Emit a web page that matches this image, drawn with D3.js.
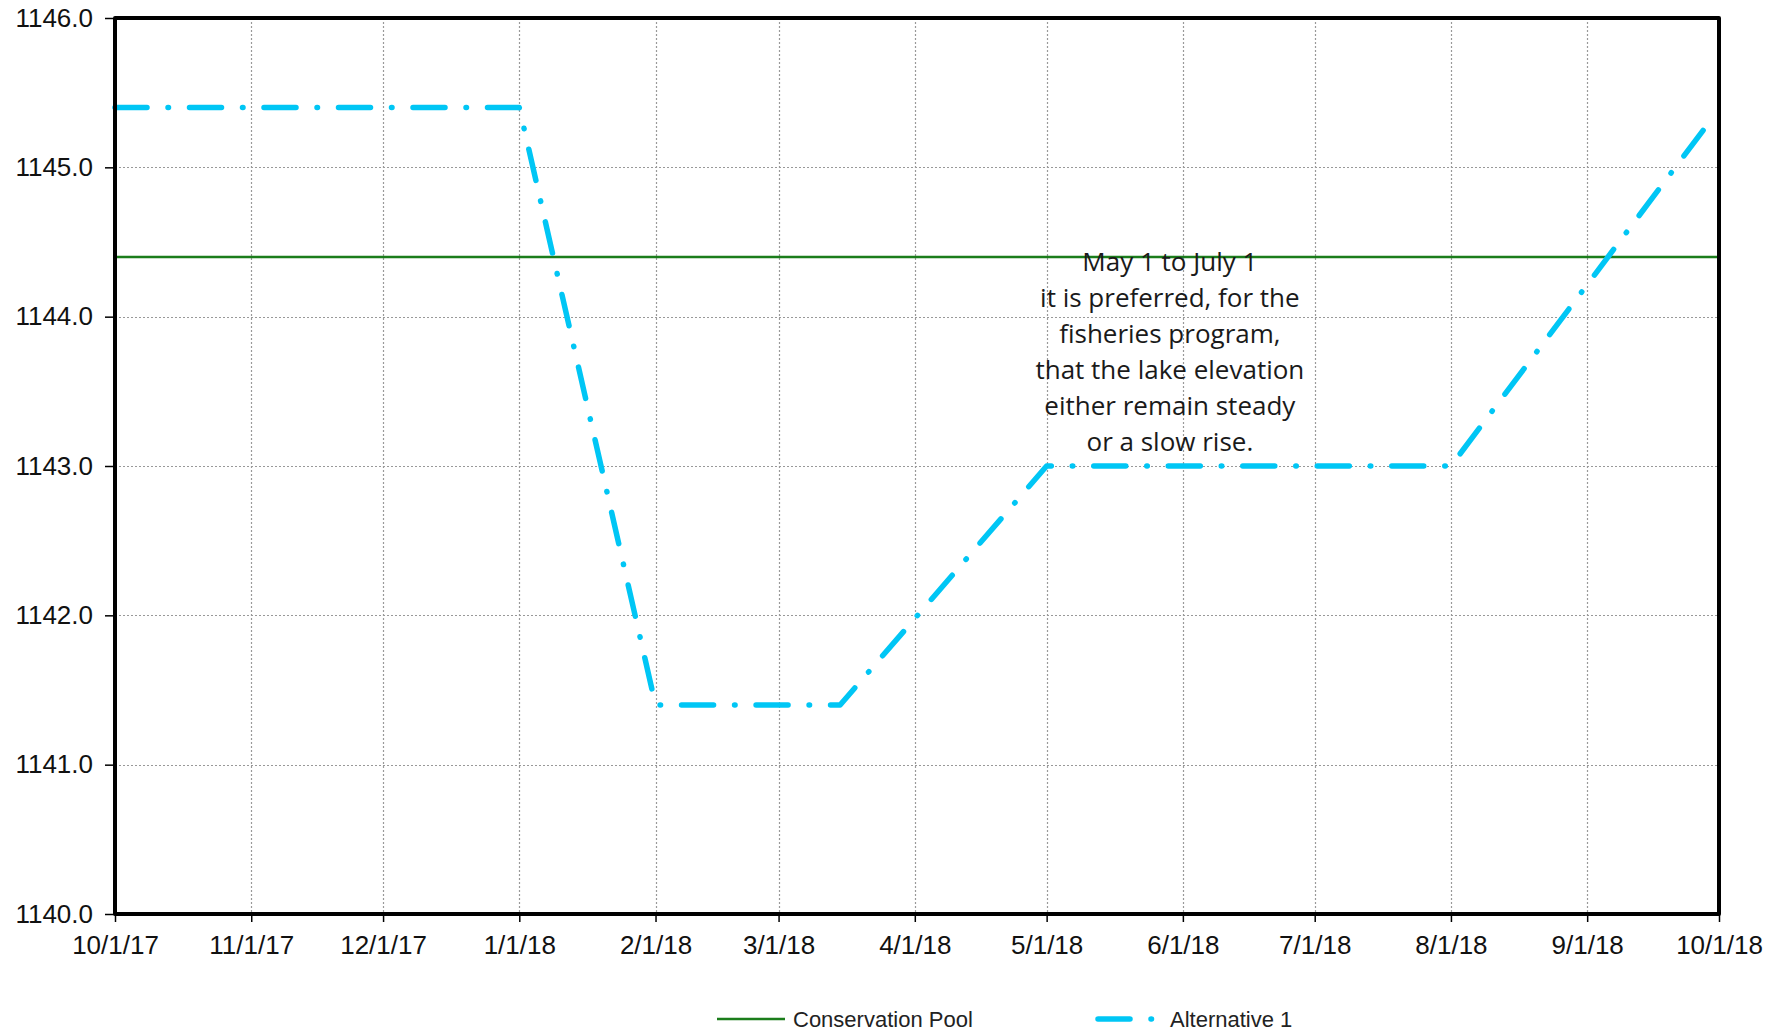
<!DOCTYPE html>
<html>
<head>
<meta charset="utf-8">
<script src="https://cdn.jsdelivr.net/npm/d3@7"></script>
<style>
  html, body { margin: 0; padding: 0; background: #fff; }
  svg { display: block; }
</style>
</head>
<body>
<svg id="chart" width="1785" height="1034"></svg>
<script>
// data
const altDates = ["2017-10-01", "2018-01-01", "2018-02-01", "2018-03-15", "2018-05-01", "2018-08-01", "2018-09-30"];
const altValues = [1145.4, 1145.4, 1141.4, 1141.4, 1143.0, 1143.0, 1145.35];
const poolValue = 1144.4;
const xTickDates = ["2017-10-01", "2017-11-01", "2017-12-01", "2018-01-01", "2018-02-01", "2018-03-01",
  "2018-04-01", "2018-05-01", "2018-06-01", "2018-07-01", "2018-08-01", "2018-09-01", "2018-10-01"];
const yTickValues = [1140, 1141, 1142, 1143, 1144, 1145, 1146];
const noteLines = ["May 1 to July 1", "it is preferred, for the", "fisheries program,",
  "that the lake elevation", "either remain steady", "or a slow rise."];
const seriesNames = ["Conservation Pool", "Alternative 1"];

const parse = d3.utcParse("%Y-%m-%d");
const fmt = d3.utcFormat("%-m/%-d/%y");

const svg = d3.select("#chart");
const margin = { top: 18, right: 66, bottom: 120, left: 115 };
const width = 1785 - margin.left - margin.right;
const height = 1034 - margin.top - margin.bottom;

const x = d3.scaleUtc()
  .domain([parse(xTickDates[0]), parse(xTickDates[xTickDates.length - 1])])
  .range([0, width]);

const y = d3.scaleLinear()
  .domain([1140, 1146])
  .range([height, 0]);

const g = svg.append("g")
  .attr("transform", `translate(${margin.left},${margin.top})`);

// grid
const grid = g.append("g").attr("stroke", "#999").attr("stroke-width", 1.2).attr("stroke-dasharray", "2,2");
grid.selectAll(".vg")
  .data(xTickDates.slice(1, -1).map(parse))
  .join("line")
  .attr("x1", d => Math.round(x(d)) + 0.5)
  .attr("x2", d => Math.round(x(d)) + 0.5)
  .attr("y1", 0)
  .attr("y2", height);
grid.selectAll(".hg")
  .data(yTickValues.slice(1, -1))
  .join("line")
  .attr("x1", 0)
  .attr("x2", width)
  .attr("y1", d => Math.round(y(d)) + 0.5)
  .attr("y2", d => Math.round(y(d)) + 0.5);

// axes
const yAxis = g.append("g")
  .call(d3.axisLeft(y).tickValues(yTickValues).tickFormat(d3.format(".1f")).tickSize(10).tickPadding(12));
const xAxis = g.append("g")
  .attr("transform", `translate(0,${height})`)
  .call(d3.axisBottom(x).tickValues(xTickDates.map(parse)).tickFormat(fmt).tickSize(8).tickPadding(14));

[yAxis, xAxis].forEach(a => {
  a.select(".domain").remove();
  a.selectAll(".tick line").attr("stroke", "#000").attr("stroke-width", 1.5);
  a.selectAll("text")
    .attr("fill", "#111")
    .style("font-family", "'Liberation Sans', Arial, sans-serif")
    .style("font-size", "26px");
});

// conservation pool
g.append("line")
  .attr("x1", x.range()[0])
  .attr("x2", x.range()[1])
  .attr("y1", y(poolValue))
  .attr("y2", y(poolValue))
  .attr("stroke", "#1b7d1b")
  .attr("stroke-width", 2.5);

// alternative 1
const altData = altDates.map((d, i) => ({ date: parse(d), value: altValues[i] }));
g.append("path")
  .datum(altData)
  .attr("fill", "none")
  .attr("stroke", "#00c6f5")
  .attr("stroke-width", 5.5)
  .attr("stroke-linecap", "round")
  .attr("stroke-linejoin", "round")
  .attr("stroke-dasharray", "32,21,0.5,21")
  .attr("d", d3.line().x(d => x(d.date)).y(d => y(d.value)));

// note
const note = g.append("text")
  .attr("text-anchor", "middle")
  .attr("fill", "#1a1a1a")
  .style("font-family", "'Open Sans', 'Noto Sans', sans-serif")
  .style("font-size", "26px");
note.selectAll("tspan")
  .data(noteLines)
  .join("tspan")
  .attr("x", x(parse("2018-06-01")) - 13)
  .attr("y", (d, i) => y(poolValue) + 14 + i * 36)
  .text(d => d);

// frame
g.append("rect")
  .attr("width", width)
  .attr("height", height)
  .attr("fill", "none")
  .attr("stroke", "#000")
  .attr("stroke-width", 4)
  .attr("stroke-linejoin", "round");

// legend
const legend = svg.append("g")
  .style("font-family", "'Liberation Sans', Arial, sans-serif")
  .style("font-size", "22px");
const lg0 = legend.append("g").attr("transform", "translate(717,1019)");
lg0.append("line").attr("x1", 0).attr("x2", 68).attr("stroke", "#1b7d1b").attr("stroke-width", 2.5);
lg0.append("text").attr("x", 76).attr("dy", "0.35em").attr("fill", "#222").text(seriesNames[0]);
const lg1 = legend.append("g").attr("transform", "translate(1095,1019)");
lg1.append("line").attr("x1", 3).attr("x2", 57).attr("stroke", "#00c6f5").attr("stroke-width", 5.5)
  .attr("stroke-linecap", "round").attr("stroke-dasharray", "32,21,0.5,21");
lg1.append("text").attr("x", 75).attr("dy", "0.35em").attr("fill", "#222").text(seriesNames[1]);
</script>
</body>
</html>
